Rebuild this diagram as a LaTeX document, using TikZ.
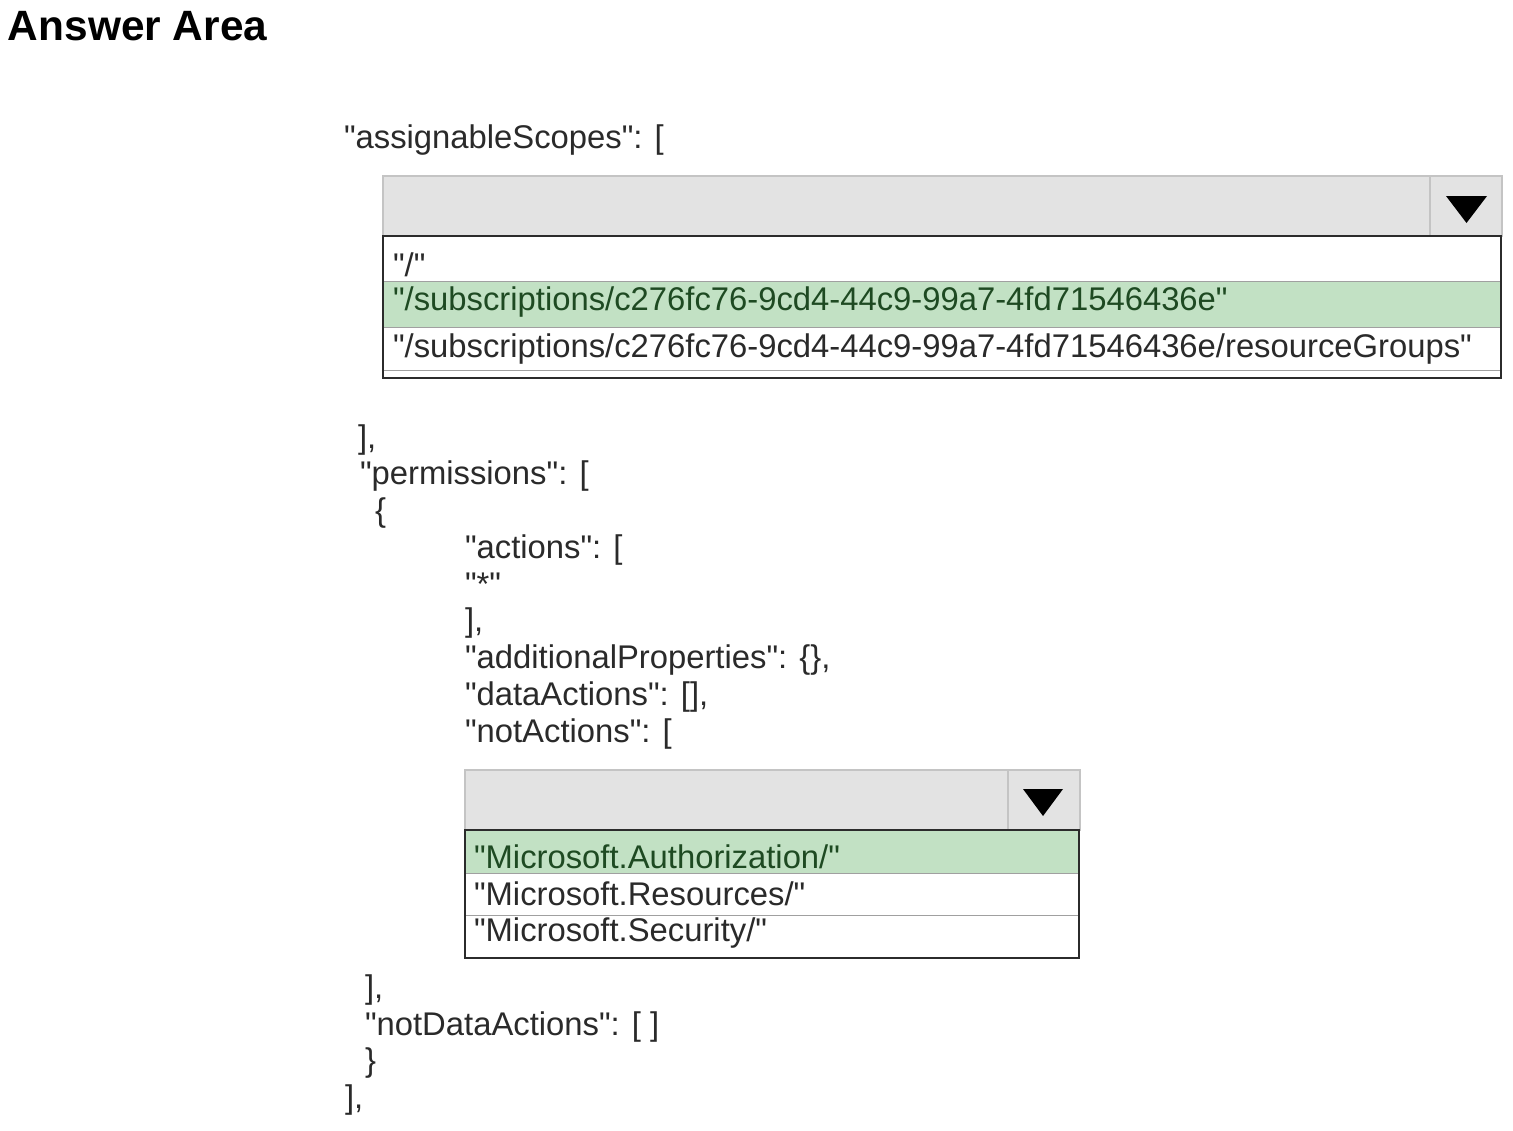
\documentclass[tikz,border=0pt]{standalone}
\usepackage{fontspec}
\setmainfont{Liberation Sans}[Ligatures=TeXOff]
\definecolor{txt}{HTML}{2A2A2A}
\definecolor{hdrfill}{HTML}{E3E3E3}
\definecolor{hdrline}{HTML}{C4C4C4}
\definecolor{selfill}{HTML}{C2E1C4}
\definecolor{seltext}{HTML}{1E4A22}
\definecolor{boxline}{HTML}{2B2B2B}
\definecolor{rowline}{HTML}{A0A0A0}
\begin{document}
\begin{tikzpicture}[x=0.5pt,y=-0.5pt,
  code/.style={anchor=base west, inner sep=0pt, outer sep=0pt, text=txt,
    font=\fontsize{16.4}{19}\selectfont},
  seltxt/.style={code, text=seltext},
  title/.style={anchor=base west, inner sep=0pt, outer sep=0pt, text=black,
    font=\fontsize{21.2}{25}\selectfont\bfseries},
  hdrbox/.style={fill=hdrfill, draw=hdrline, line width=0.6pt},
  divider/.style={draw=hdrline, line width=0.8pt},
  arrowtri/.style={fill=black},
  selrow/.style={fill=selfill},
  rowsep/.style={draw=rowline, line width=0.5pt},
  listbox/.style={draw=boxline, line width=1.2pt}]
\fill[white] (0,0) rectangle (1513,1130);
\useasboundingbox (0,0) rectangle (1513,1130);

\node[title] (title) at (8,40) {Answer Area};
\node[code] (scopes) at (344,148) {"assignableScopes": [};

% dropdown 1
\path[hdrbox] (383,176) rectangle (1502,236);
\path[divider] (1430,177) -- (1430,236);
\path[arrowtri] (1446,196) -- (1487,196) -- (1466.5,223) -- cycle;
\path[selrow] (383,281) rectangle (1501,327);
\path[rowsep] (383,281) -- (1501,281);
\path[rowsep] (383,327) -- (1501,327);
\path[rowsep] (383,370) -- (1501,370);
\path[listbox] (383,236) rectangle (1501,378);
\node[code] (opt1a) at (393,276) {"/"};
\node[seltxt] (opt1b) at (393,310) {"/subscriptions/c276fc76-9cd4-44c9-99a7-4fd71546436e"};
\node[code] (opt1c) at (393,357) {"/subscriptions/c276fc76-9cd4-44c9-99a7-4fd71546436e/resourceGroups"};

\node[code] (close1) at (358,448) {],};
\node[code] (perm) at (360,484) {"permissions": [};
\node[code] (brace1) at (375,521) {\{};
\node[code] (actions) at (465,558) {"actions": [};
\node[code] (star) at (465,595) {"*"};
\node[code] (close2) at (465,631) {],};
\node[code] (addprop) at (465,668) {"additionalProperties": \{\},};
\node[code] (dataact) at (465,705) {"dataActions": [],};
\node[code] (notact) at (465,742) {"notActions": [};

% dropdown 2
\path[hdrbox] (465,770) rectangle (1080,830);
\path[divider] (1008,771) -- (1008,830);
\path[arrowtri] (1023,789) -- (1063,789) -- (1043,816) -- cycle;
\path[selrow] (465,830) rectangle (1079,873);
\path[rowsep] (465,873) -- (1079,873);
\path[rowsep] (465,915) -- (1079,915);
\path[listbox] (465,830) rectangle (1079,958);
\node[seltxt] (opt2a) at (474,868) {"Microsoft.Authorization/"};
\node[code] (opt2b) at (474,905) {"Microsoft.Resources/"};
\node[code] (opt2c) at (474,941) {"Microsoft.Security/"};

\node[code] (close3) at (365,998) {],};
\node[code] (notdata) at (365,1035) {"notDataActions": [ ]};
\node[code] (brace2) at (365,1071) {\}};
\node[code] (close4) at (345,1108) {],};
\end{tikzpicture}
\end{document}
